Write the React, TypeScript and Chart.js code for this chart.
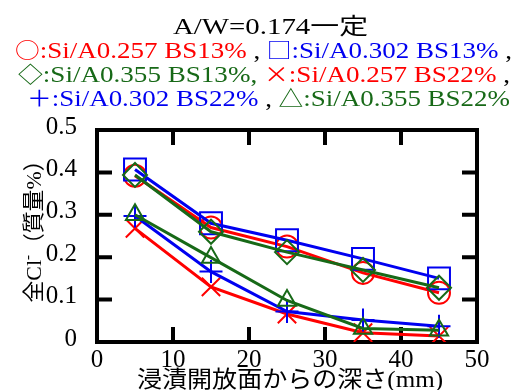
import React, { useEffect, useRef } from "react";
import { Chart, registerables } from "chart.js";

Chart.register(...registerables);

// ---- data ----
const depths = [5, 15, 25, 35, 45];
const si257bs13 = [0.392, 0.27, 0.225, 0.163, 0.116];
const si302bs13 = [0.407, 0.28, 0.24, 0.196, 0.15];
const si355bs13 = [0.394, 0.26, 0.212, 0.17, 0.128];
const si257bs22 = [0.268, 0.13, 0.066, 0.022, 0.014];
const si302bs22 = [0.297, 0.166, 0.072, 0.052, 0.037];
const si355bs22 = [0.3, 0.199, 0.098, 0.032, 0.028];
const xTicks = [0, 10, 20, 30, 40, 50];
const yTicks = [0, 0.1, 0.2, 0.3, 0.4, 0.5];

const RED = "#ff0000";
const BLUE = "#0000f0";
const GREEN = "#176917";

const titleText = "A/W=0.174一定";
const yTitle = ["全Cl", "-", "（質量%）"];
const xTitle = "浸漬開放面からの深さ(mm)";

type Seg = { t: string; c: string; sym?: boolean };
const legendLine1: Seg[] = [
  { t: "○", c: RED, sym: true },
  { t: ":Si/A0.257 BS13%", c: RED },
  { t: " , ", c: "#000" },
  { t: "□", c: BLUE, sym: true },
  { t: ":Si/A0.302 BS13%", c: BLUE },
  { t: " ,", c: "#000" },
];
const legendLine2: Seg[] = [
  { t: "◇", c: GREEN, sym: true },
  { t: ":Si/A0.355 BS13%,", c: GREEN },
  { t: " ", c: "#000" },
  { t: "×", c: RED, sym: true },
  { t: ":Si/A0.257 BS22%", c: RED },
  { t: " ,", c: "#000" },
];
const legendLine3: Seg[] = [
  { t: "＋", c: BLUE, sym: true },
  { t: ":Si/A0.302 BS22%", c: BLUE },
  { t: " , ", c: "#000" },
  { t: "△", c: GREEN, sym: true },
  { t: ":Si/A0.355 BS22%", c: GREEN },
];

const SERIF = '"Liberation Serif", "Noto Sans CJK JP", serif';
const CJK = '"Noto Sans CJK JP", "DejaVu Sans", sans-serif';

function drawSegs(
  ctx: CanvasRenderingContext2D,
  segs: Seg[],
  left: number,
  right: number,
  baseline: number,
  size: number
) {
  const widths = segs.map((s) => {
    ctx.font = `${s.sym ? size - 2 : size}px ${s.sym ? CJK : SERIF}`;
    return ctx.measureText(s.t).width;
  });
  const total = widths.reduce((a, b) => a + b, 0);
  const sx = (right - left) / total;
  ctx.save();
  ctx.translate(left, baseline);
  ctx.scale(sx, 1);
  ctx.textAlign = "left";
  ctx.textBaseline = "alphabetic";
  let x = 0;
  segs.forEach((s, i) => {
    ctx.font = `${s.sym ? size - 2 : size}px ${s.sym ? CJK : SERIF}`;
    ctx.fillStyle = s.c;
    ctx.fillText(s.t, x, 0);
    x += widths[i];
  });
  ctx.restore();
}

const framePlugin = {
  id: "frame",
  beforeDatasetsDraw(chart: any) {
    const { ctx, chartArea: a, scales } = chart;
    ctx.save();
    ctx.strokeStyle = "#000";
    ctx.lineWidth = 4;
    ctx.strokeRect(a.left, a.top, a.right - a.left, a.bottom - a.top);
    const L = 15;
    ctx.beginPath();
    xTicks.slice(1, -1).forEach((v) => {
      const px = scales.x.getPixelForValue(v);
      ctx.moveTo(px, a.bottom);
      ctx.lineTo(px, a.bottom - L);
      ctx.moveTo(px, a.top);
      ctx.lineTo(px, a.top + L);
    });
    yTicks.slice(1, -1).forEach((v) => {
      const py = scales.y.getPixelForValue(v);
      ctx.moveTo(a.left, py);
      ctx.lineTo(a.left + L, py);
      ctx.moveTo(a.right, py);
      ctx.lineTo(a.right - L, py);
    });
    ctx.stroke();
    ctx.restore();
  },
};

const textPlugin = {
  id: "texts",
  afterDraw(chart: any) {
    const { ctx, chartArea: a } = chart;
    ctx.save();
    // title
    drawSegs(ctx, [{ t: titleText, c: "#000" }], 173, 368, 34, 23);
    drawSegs(ctx, legendLine1, 15, 512, 58, 24);
    drawSegs(ctx, legendLine2, 18, 510, 82, 24);
    drawSegs(ctx, legendLine3, 27, 510, 106, 24);

    // x title
    ctx.font = `23px ${SERIF}`;
    const xw = ctx.measureText(xTitle).width;
    const xsx = 306 / xw;
    ctx.save();
    ctx.translate((a.left + a.right) / 2 + 3, 387);
    ctx.scale(xsx, 1);
    ctx.fillStyle = "#000";
    ctx.textAlign = "center";
    ctx.textBaseline = "alphabetic";
    ctx.fillText(xTitle, 0, 0);
    ctx.restore();

    // y title (rotated)
    const big = `22px ${SERIF}`;
    const small = `15px ${SERIF}`;
    ctx.font = big;
    const w0 = ctx.measureText(yTitle[0]).width;
    ctx.font = small;
    const w1 = ctx.measureText(yTitle[1]).width;
    ctx.font = big;
    const w2 = ctx.measureText(yTitle[2]).width;
    const tot = w0 + w1 + w2;
    const ysx = 153 / tot;
    ctx.save();
    ctx.translate(41, 226);
    ctx.rotate(-Math.PI / 2);
    ctx.scale(ysx, 1);
    ctx.fillStyle = "#000";
    ctx.textAlign = "left";
    ctx.textBaseline = "alphabetic";
    let x = -tot / 2;
    ctx.font = big;
    ctx.fillText(yTitle[0], x, 0);
    x += w0;
    ctx.font = small;
    ctx.fillText(yTitle[1], x, -9);
    x += w1;
    ctx.font = big;
    ctx.fillText(yTitle[2], x, 0);
    ctx.restore();

    ctx.restore();
  },
};

function series(
  label: string,
  values: number[],
  color: string,
  style: string,
  radius: number,
  order: number
) {
  return {
    label,
    data: depths.map((x, i) => ({ x, y: values[i] })),
    borderColor: color,
    backgroundColor: "rgba(0,0,0,0)",
    borderWidth: 3,
    pointStyle: style,
    pointRadius: radius,
    pointBorderWidth: 2,
    pointBorderColor: color,
    pointBackgroundColor: "rgba(0,0,0,0)",
    fill: false,
    tension: 0,
    order,
  };
}

export default function App() {
  const ref = useRef<HTMLCanvasElement | null>(null);

  useEffect(() => {
    if (!ref.current) return;
    const chart = new Chart(ref.current, {
      type: "line",
      data: {
        datasets: [
          series("○:Si/A0.257 BS13%", si257bs13, RED, "circle", 11, 6),
          series("□:Si/A0.302 BS13%", si302bs13, BLUE, "rect", 15.5, 5),
          series("◇:Si/A0.355 BS13%", si355bs13, GREEN, "rectRot", 12, 4),
          series("×:Si/A0.257 BS22%", si257bs22, RED, "crossRot", 13, 3),
          series("＋:Si/A0.302 BS22%", si302bs22, BLUE, "cross", 11.5, 2),
          series("△:Si/A0.355 BS22%", si355bs22, GREEN, "triangle", 10.5, 1),
        ] as any,
      },
      options: {
        responsive: false,
        animation: false,
        devicePixelRatio: 1,
        layout: { padding: { top: 130, right: 37, left: 0, bottom: 0 } },
        plugins: {
          legend: { display: false },
          title: { display: false },
          tooltip: { enabled: false },
        },
        scales: {
          x: {
            type: "linear",
            min: 0,
            max: 50,
            grid: { display: false },
            border: { display: false },
            afterBuildTicks: (s: any) => {
              s.ticks = xTicks.map((v) => ({ value: v }));
            },
            afterFit: (s: any) => {
              s.height = 48;
            },
            ticks: {
              color: "#000",
              padding: -5,
              maxRotation: 0,
              autoSkip: false,
              font: { family: SERIF, size: 25 },
              callback: (v: any) => String(v),
            },
          },
          y: {
            type: "linear",
            min: 0,
            max: 0.5,
            grid: { display: false },
            border: { display: false },
            afterBuildTicks: (s: any) => {
              s.ticks = yTicks.map((v) => ({ value: v }));
            },
            afterFit: (s: any) => {
              s.width = 97;
            },
            ticks: {
              color: "#000",
              padding: 12,
              labelOffset: -3,
              autoSkip: false,
              font: { family: SERIF, size: 25 },
              callback: (v: any) => (Number(v) === 0 ? "0" : Number(v).toFixed(1)),
            },
          },
        },
      } as any,
      plugins: [framePlugin, textPlugin],
    });
    return () => chart.destroy();
  }, []);

  return (
    <div style={{ position: "absolute", left: 0, top: 0, width: 514, height: 390, background: "#fff" }}>
      <canvas ref={ref} width={514} height={390} style={{ display: "block" }} />
    </div>
  );
}
